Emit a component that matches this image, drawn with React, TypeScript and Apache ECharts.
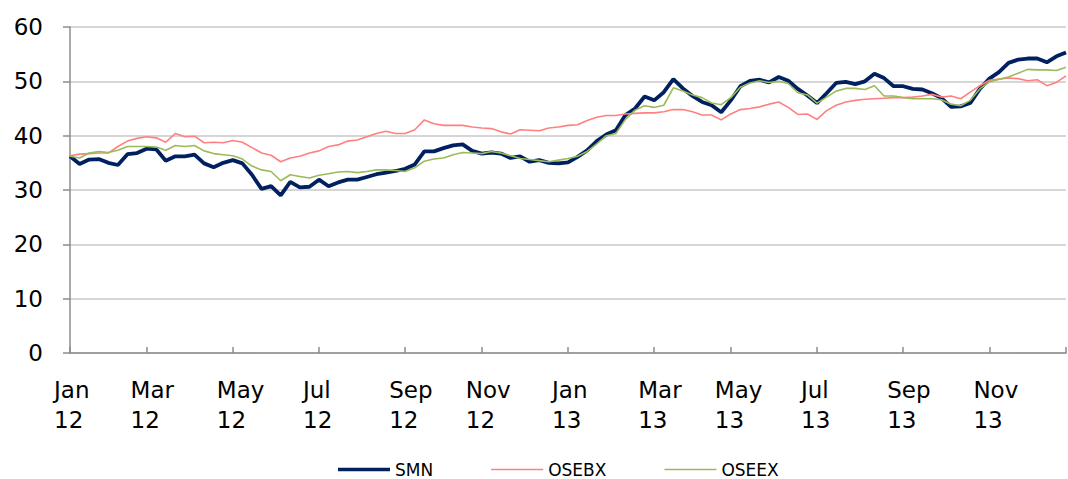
import React, { useEffect, useRef } from "react";
import * as echarts from "echarts";

// Weekly observations, Monday of each week starting 2012-01-02
const startDate = "2012-01-02";
const weekCount = 105;

const tickLabels = [
  "Jan\n12", "Mar\n12", "May\n12", "Jul\n12", "Sep\n12", "Nov\n12",
  "Jan\n13", "Mar\n13", "May\n13", "Jul\n13", "Sep\n13", "Nov\n13",
];

const smn = [
  36.2, 34.8, 35.6, 35.7, 35.0, 34.6, 36.6, 36.8, 37.6, 37.5,
  35.4, 36.2, 36.2, 36.5, 34.9, 34.2, 35.0, 35.5, 34.9, 32.8,
  30.2, 30.7, 29.0, 31.5, 30.5, 30.6, 31.9, 30.7, 31.4, 31.9,
  31.9, 32.4, 32.9, 33.2, 33.5, 33.9, 34.7, 37.1, 37.1, 37.7,
  38.2, 38.4, 37.2, 36.7, 36.9, 36.7, 35.9, 36.2, 35.2, 35.5,
  35.0, 34.9, 35.1, 36.1, 37.3, 39.0, 40.2, 41.0, 43.8, 45.0,
  47.2, 46.5, 48.0, 50.4, 48.7, 47.3, 46.2, 45.6, 44.3, 46.5,
  49.1, 50.1, 50.3, 49.8, 50.8, 50.1, 48.6, 47.4, 46.0, 47.8,
  49.7, 49.9, 49.5, 50.0, 51.4, 50.6, 49.1, 49.1, 48.6, 48.5,
  47.8, 46.9, 45.3, 45.4, 46.0, 48.6, 50.5, 51.7, 53.4, 54.0,
  54.2, 54.2, 53.5, 54.6, 55.3,
];

const osebx = [
  36.3, 36.6, 36.7, 36.8, 36.8, 38.0, 39.0, 39.5, 39.8, 39.6,
  38.8, 40.4, 39.8, 39.9, 38.7, 38.8, 38.7, 39.1, 38.8, 37.8,
  36.8, 36.4, 35.2, 35.9, 36.2, 36.8, 37.2, 38.0, 38.3, 39.0,
  39.2, 39.8, 40.4, 40.8, 40.4, 40.4, 41.1, 42.9, 42.2, 41.9,
  41.9, 41.9, 41.6, 41.4, 41.3, 40.7, 40.3, 41.1, 41.0, 40.9,
  41.4, 41.6, 41.9, 42.0, 42.8, 43.4, 43.7, 43.7, 44.0, 44.1,
  44.2, 44.2, 44.4, 44.8, 44.8, 44.4, 43.8, 43.8, 42.9, 44.0,
  44.8, 45.0, 45.3, 45.8, 46.2, 45.2, 43.9, 44.0, 43.0, 44.6,
  45.6, 46.2, 46.5, 46.7, 46.8, 46.9, 47.0, 47.0, 47.1, 47.3,
  47.6, 47.1, 47.3, 46.8, 48.0, 49.2, 50.2, 50.4, 50.6, 50.5,
  50.1, 50.3, 49.2, 49.8, 51.0,
];

const oseex = [
  36.2, 35.9, 36.8, 37.1, 36.9, 37.3, 38.0, 38.0, 38.0, 37.9,
  37.3, 38.2, 38.0, 38.2, 37.2, 36.7, 36.5, 36.3, 35.7, 34.4,
  33.7, 33.4, 31.7, 32.8, 32.5, 32.2, 32.7, 33.0, 33.3, 33.4,
  33.2, 33.4, 33.7, 33.7, 33.6, 33.4, 34.1, 35.3, 35.7, 35.9,
  36.5, 36.9, 36.8, 36.7, 37.1, 36.8, 36.3, 35.8, 35.6, 35.4,
  35.2, 35.5, 35.8, 36.2, 37.1, 38.5, 40.0, 40.4, 43.0, 44.7,
  45.5, 45.2, 45.6, 48.8, 48.2, 47.5, 47.0, 46.0, 45.7, 47.0,
  48.9, 49.7, 50.1, 49.8, 50.0, 49.6, 47.9, 47.5, 46.0, 47.1,
  48.2, 48.7, 48.7, 48.5, 49.2, 47.3, 47.3, 47.0, 46.8, 46.8,
  46.8, 46.6, 45.8, 45.5, 46.5, 48.6, 49.9, 50.4, 50.8, 51.5,
  52.2, 52.1, 52.1, 52.0, 52.6,
];

function buildDates(): string[] {
  const out: string[] = [];
  const base = new Date(startDate + "T00:00:00Z").getTime();
  for (let i = 0; i < weekCount; i++) {
    out.push(new Date(base + i * 7 * 86400000).toISOString().slice(0, 10));
  }
  return out;
}

// date nearest (within +/-3 days) to the 1st of each odd month
function buildTickDates(dates: string[]): string[] {
  const res: string[] = [];
  for (let i = 0; i < dates.length; i++) {
    const t = new Date(dates[i] + "T00:00:00Z").getTime();
    for (let k = -3; k <= 3; k++) {
      const d = new Date(t + k * 86400000);
      if (d.getUTCDate() === 1 && d.getUTCMonth() % 2 === 0) {
        res.push(dates[i]);
        break;
      }
    }
  }
  return res;
}

const FONT = "DejaVu Sans, Verdana, sans-serif";

export default function App() {
  const ref = useRef<HTMLDivElement>(null);
  useEffect(() => {
    if (!ref.current) return;
    const chart = echarts.init(ref.current, undefined, { renderer: "svg" });
    const dates = buildDates();
    const tickDates = buildTickDates(dates);
    const labelOf: Record<string, string> = {};
    tickDates.forEach((d, k) => {
      labelOf[d] = tickLabels[k] ?? "";
    });
    const isTick = (_i: number, v: string) => labelOf[v] !== undefined;

    chart.setOption({
      animation: false,
      backgroundColor: "#ffffff",
      grid: {
        left: 70,
        right: 2,
        top: 27,
        bottom: 126,
        containLabel: false,
        outerBoundsMode: "none",
      },
      legend: {
        left: 333,
        top: 456,
        itemWidth: 52,
        itemHeight: 14,
        itemGap: 58,
        textStyle: { fontFamily: FONT, fontSize: 17, color: "#000" },
        data: [
          { name: "SMN", icon: "path://M0,0H52V3.5H0Z" },
          { name: "OSEBX", icon: "path://M0,0H52V1.6H0Z" },
          { name: "OSEEX", icon: "path://M0,0H52V1.6H0Z" },
        ],
      },
      xAxis: {
        type: "category",
        data: dates,
        boundaryGap: false,
        axisLine: { lineStyle: { color: "#8c8c8c", width: 1.5 } },
        axisTick: {
          inside: true,
          length: 6,
          interval: isTick,
          lineStyle: { color: "#8c8c8c", width: 1.5 },
        },
        axisLabel: {
          interval: isTick,
          showMinLabel: true,
          showMaxLabel: true,
          hideOverlap: false,
          formatter: (v: string) => labelOf[v] ?? "",
          fontFamily: FONT,
          fontSize: 23,
          lineHeight: 30,
          color: "#000",
          margin: 22,
          align: "left",
          padding: [0, 0, 0, -16],
        },
        splitLine: { show: false },
      },
      yAxis: {
        type: "value",
        min: 0,
        max: 60,
        interval: 10,
        axisLine: { show: true, lineStyle: { color: "#8c8c8c", width: 1.5 } },
        axisTick: { show: true, length: 7, lineStyle: { color: "#8c8c8c", width: 1.5 } },
        axisLabel: { fontFamily: FONT, fontSize: 23, color: "#000", margin: 27 },
        splitLine: { lineStyle: { color: "#c8c8c8", width: 1.5 } },
      },
      series: [
        {
          name: "OSEBX",
          type: "line",
          data: osebx,
          symbol: "none",
          color: "#ff8080",
          lineStyle: { color: "#ff8080", width: 1.6 },
          z: 2,
        },
        {
          name: "OSEEX",
          type: "line",
          data: oseex,
          symbol: "none",
          color: "#9bbb59",
          lineStyle: { color: "#9bbb59", width: 1.6 },
          z: 3,
        },
        {
          name: "SMN",
          type: "line",
          data: smn,
          symbol: "none",
          color: "#002060",
          lineStyle: { color: "#002060", width: 3.8 },
          z: 1,
        },
      ],
    });
    return () => chart.dispose();
  }, []);
  return (
    <div
      ref={ref}
      style={{ position: "fixed", left: 0, top: 0, width: 1068, height: 479 }}
    />
  );
}
